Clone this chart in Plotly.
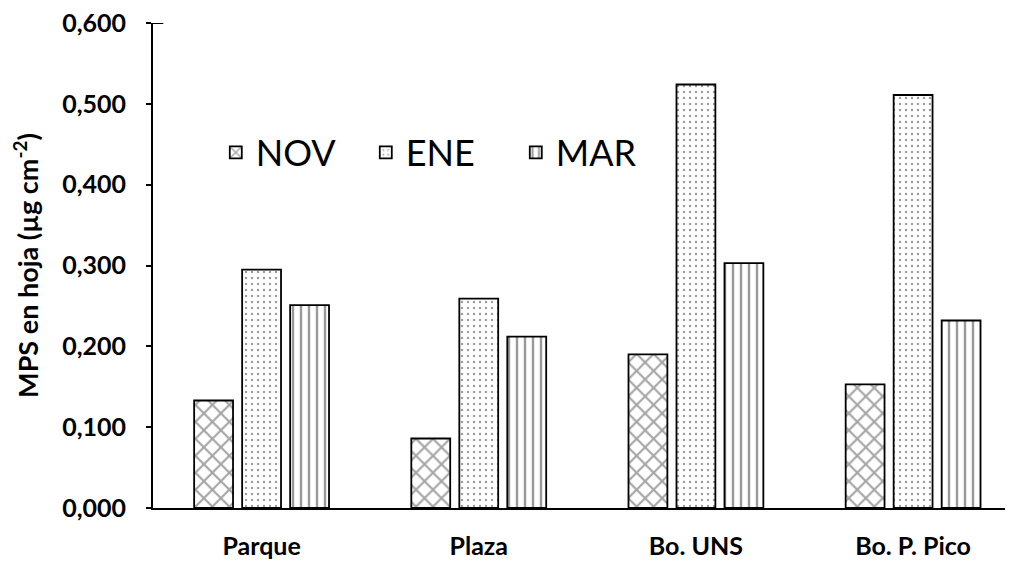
import plotly.graph_objects as go

categories = ["Parque", "Plaza", "Bo. UNS", "Bo. P. Pico"]
nov = [0.133, 0.086, 0.190, 0.153]
ene = [0.295, 0.259, 0.524, 0.511]
mar = [0.251, 0.212, 0.303, 0.232]
y_ticks = [0.0, 0.1, 0.2, 0.3, 0.4, 0.5, 0.6]

FONT = "Lato"

fig = go.Figure()
fig.add_trace(go.Bar(
    name="NOV", x=categories, y=nov,
    marker=dict(color="white", line=dict(color="black", width=1.8),
                pattern=dict(shape="x", size=12, solidity=0.32,
                             fgcolor="#4a4a4a", bgcolor="white")),
))
fig.add_trace(go.Bar(
    name="ENE", x=categories, y=ene,
    marker=dict(color="white", line=dict(color="black", width=1.8),
                pattern=dict(shape=".", size=6, solidity=0.12,
                             fgcolor="#333333", bgcolor="white")),
))
fig.add_trace(go.Bar(
    name="MAR", x=categories, y=mar,
    marker=dict(color="white", line=dict(color="black", width=1.8),
                pattern=dict(shape="|", size=8, solidity=0.3,
                             fgcolor="#333333", bgcolor="white")),
))

fig.update_layout(
    width=1005, height=557,
    margin=dict(l=145, r=0, t=15, b=57),
    paper_bgcolor="white", plot_bgcolor="white",
    barmode="group", bargap=0.337, bargroupgap=0.19,
    separators=",.",
    font=dict(family=FONT, color="black"),
    showlegend=True,
    legend=dict(
        orientation="h", x=0.073, y=0.733, xanchor="left", yanchor="middle",
        font=dict(family=FONT, size=36, color="black"),
        bgcolor="rgba(0,0,0,0)", entrywidth=105, traceorder="normal",
    ),
    xaxis=dict(
        range=[-0.5, 3.46], showline=True, linecolor="black", linewidth=1.8,
        ticks="", showgrid=False, zeroline=False,
        tickfont=dict(family=FONT, size=25, weight="bold", color="black"),
        ticklabelstandoff=15,
    ),
    yaxis=dict(
        range=[0, 0.6001], tickvals=y_ticks, tickformat=".3f",
        showline=True, linecolor="black", linewidth=1.8,
        ticks="outside", ticklen=5, tickwidth=1.8, tickcolor="black",
        showgrid=False, zeroline=False, ticklabeloverflow="allow",
        tickfont=dict(family=FONT, size=25, weight="bold", color="black"),
        ticklabelstandoff=15,
        title=dict(text="MPS en hoja (µg cm<sup>-2</sup>)",
                   font=dict(family=FONT, size=27, weight="bold", color="black"),
                   standoff=22),
    ),
    shapes=[dict(type="line", xref="paper", yref="y", x0=0, x1=0.012,
                 y0=0.6, y1=0.6, line=dict(color="black", width=1.8))],
)

fig.write_html("out.html")
